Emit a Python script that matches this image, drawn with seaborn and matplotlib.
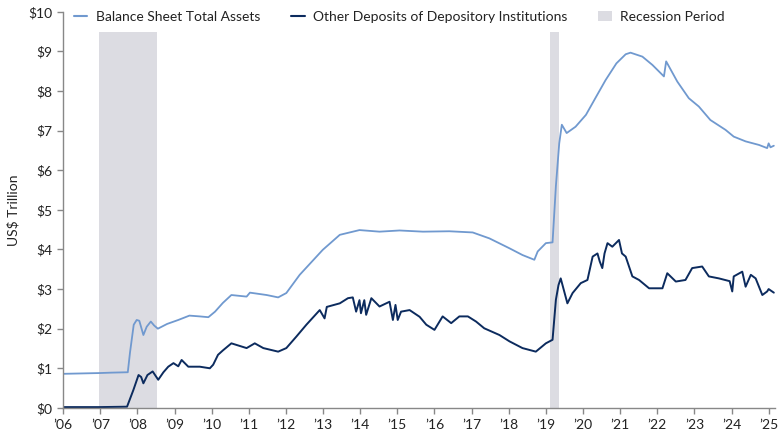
import matplotlib
matplotlib.use("Agg")
import matplotlib.pyplot as plt
import seaborn as sns
import pandas as pd
from matplotlib.patches import Patch
from matplotlib.lines import Line2D

# Balance sheet total assets (US$ trillion)
assets_year = [2006.0, 2006.5, 2007.0, 2007.3, 2007.74, 2007.8, 2007.9, 2007.98, 2008.05,
               2008.16, 2008.25, 2008.36, 2008.45, 2008.55, 2008.8, 2009.1, 2009.4, 2009.68,
               2009.91, 2010.09, 2010.3, 2010.53, 2010.94, 2011.03, 2011.48, 2011.79, 2012.01,
               2012.37, 2012.99, 2013.45, 2013.98, 2014.52, 2015.06, 2015.69, 2016.4, 2017.03,
               2017.48, 2018.02, 2018.37, 2018.69, 2018.78, 2019.0, 2019.18, 2019.27, 2019.36,
               2019.43, 2019.56, 2019.8, 2020.08, 2020.35, 2020.61, 2020.9, 2021.15, 2021.28,
               2021.6, 2021.87, 2022.18, 2022.24, 2022.54, 2022.85, 2023.12, 2023.43, 2023.84,
               2024.06, 2024.38, 2024.74, 2024.96, 2025.0, 2025.05, 2025.14]
assets_value = [0.86, 0.87, 0.88, 0.89, 0.90, 1.4, 2.1, 2.22, 2.2,
                1.84, 2.05, 2.18, 2.08, 2.0, 2.12, 2.22, 2.33, 2.31,
                2.29, 2.43, 2.65, 2.85, 2.81, 2.91, 2.85, 2.79, 2.90,
                3.36, 3.99, 4.37, 4.49, 4.45, 4.48, 4.45, 4.46, 4.43,
                4.28, 4.03, 3.86, 3.74, 3.95, 4.16, 4.18, 5.6, 6.68,
                7.15, 6.94, 7.1, 7.4, 7.85, 8.28, 8.7, 8.93, 8.97,
                8.87, 8.66, 8.37, 8.75, 8.24, 7.82, 7.61, 7.27, 7.02,
                6.85, 6.73, 6.64, 6.56, 6.68, 6.58, 6.62]

# Other deposits of depository institutions (US$ trillion)
deposits_year = [2006.0, 2007.0, 2007.72, 2007.89, 2008.03, 2008.1, 2008.16, 2008.27, 2008.41,
                 2008.56, 2008.7, 2008.83, 2008.97, 2009.1, 2009.19, 2009.37, 2009.68, 2009.95,
                 2010.04, 2010.17, 2010.3, 2010.53, 2010.94, 2011.16, 2011.39, 2011.79, 2012.01,
                 2012.28, 2012.55, 2012.91, 2013.04, 2013.1, 2013.45, 2013.67, 2013.8, 2013.89,
                 2013.98, 2014.02, 2014.11, 2014.16, 2014.3, 2014.52, 2014.79, 2014.88, 2014.95,
                 2015.01, 2015.1, 2015.33, 2015.6, 2015.78, 2016.0, 2016.22, 2016.45, 2016.67,
                 2016.9, 2017.12, 2017.34, 2017.75, 2018.02, 2018.37, 2018.73, 2019.0, 2019.18,
                 2019.27, 2019.34, 2019.4, 2019.58, 2019.72, 2019.94, 2020.12, 2020.26, 2020.39,
                 2020.45, 2020.52, 2020.58, 2020.66, 2020.79, 2020.97, 2021.05, 2021.15, 2021.33,
                 2021.51, 2021.78, 2022.14, 2022.27, 2022.5, 2022.76, 2022.94, 2023.21, 2023.39,
                 2023.66, 2023.95, 2024.02, 2024.06, 2024.29, 2024.38, 2024.52, 2024.65, 2024.83,
                 2024.96, 2025.0, 2025.14]
deposits_value = [0.02, 0.02, 0.03, 0.45, 0.83, 0.78, 0.62, 0.83, 0.92,
                  0.71, 0.9, 1.04, 1.13, 1.05, 1.21, 1.04, 1.04, 1.0,
                  1.09, 1.34, 1.45, 1.63, 1.51, 1.63, 1.51, 1.42, 1.51,
                  1.8, 2.1, 2.47, 2.26, 2.55, 2.64, 2.77, 2.79, 2.43,
                  2.72, 2.39, 2.72, 2.35, 2.77, 2.56, 2.68, 2.22, 2.6,
                  2.22, 2.43, 2.47, 2.3, 2.1, 1.97, 2.31, 2.14, 2.31,
                  2.31, 2.18, 2.01, 1.84, 1.68, 1.51, 1.42, 1.63, 1.72,
                  2.73, 3.1, 3.27, 2.64, 2.9, 3.15, 3.23, 3.82, 3.9,
                  3.7, 3.53, 3.9, 4.16, 4.07, 4.24, 3.9, 3.82, 3.32,
                  3.23, 3.02, 3.02, 3.4, 3.19, 3.23, 3.53, 3.57, 3.32,
                  3.27, 3.2, 2.94, 3.32, 3.44, 3.06, 3.36, 3.27, 2.85,
                  2.94, 3.0, 2.91]

recession_start = [2006.97, 2019.12]
recession_end = [2008.53, 2019.36]
recession_top = 9.5

year_ticks = list(range(2006, 2026))
year_labels = ["’%02d" % (y % 100) for y in year_ticks]
dollar_ticks = list(range(0, 11))
dollar_labels = ["$%d" % v for v in dollar_ticks]

light_blue = "#7099cf"
navy = "#0c2b5e"
shade = "#dcdce2"

sns.set_theme(style="white")
plt.rcParams["font.family"] = ["Lato", "DejaVu Sans"]

fig = plt.figure(figsize=(7.8, 4.4), dpi=100)
ax = fig.add_axes([0.081, 0.073, 0.913, 0.9])

for s, e in zip(recession_start, recession_end):
    ax.fill_between([s, e], 0, recession_top, color=shade, linewidth=0, zorder=0)

assets_df = pd.DataFrame({"year": assets_year, "value": assets_value})
deposits_df = pd.DataFrame({"year": deposits_year, "value": deposits_value})
sns.lineplot(data=assets_df, x="year", y="value", ax=ax, color=light_blue, linewidth=1.3,
             estimator=None, sort=False)
sns.lineplot(data=deposits_df, x="year", y="value", ax=ax, color=navy, linewidth=1.4,
             estimator=None, sort=False)

ax.set_xlim(2006, 2025.18)
ax.set_ylim(0, 10)
ax.set_xticks(year_ticks)
ax.set_xticklabels(year_labels, fontsize=10, color="#222222")
ax.set_yticks(dollar_ticks)
ax.set_yticklabels(dollar_labels, fontsize=10, color="#222222")
ax.set_xlabel("")
ax.set_ylabel("US$ Trillion", fontsize=10, color="#222222", labelpad=6)

for side in ["top", "right"]:
    ax.spines[side].set_visible(False)
for side in ["left", "bottom"]:
    ax.spines[side].set_color("#888888")
    ax.spines[side].set_linewidth(1.0)
ax.tick_params(axis="both", which="major", direction="out", length=4, width=1,
               color="#888888", pad=4, bottom=True, left=True)

handles = [Line2D([0], [0], color=light_blue, linewidth=1.5),
           Line2D([0], [0], color=navy, linewidth=1.5),
           Patch(facecolor=shade, edgecolor="none")]
labels = ["Balance Sheet Total Assets", "Other Deposits of Depository Institutions",
          "Recession Period"]
ax.legend(handles, labels, loc="upper left", bbox_to_anchor=(-0.003, 1.035), ncol=3,
          frameon=False, fontsize=10, handlelength=1.0, handletextpad=0.6,
          columnspacing=2.2, labelcolor="#222222")

fig.savefig("out.png", dpi=100)
